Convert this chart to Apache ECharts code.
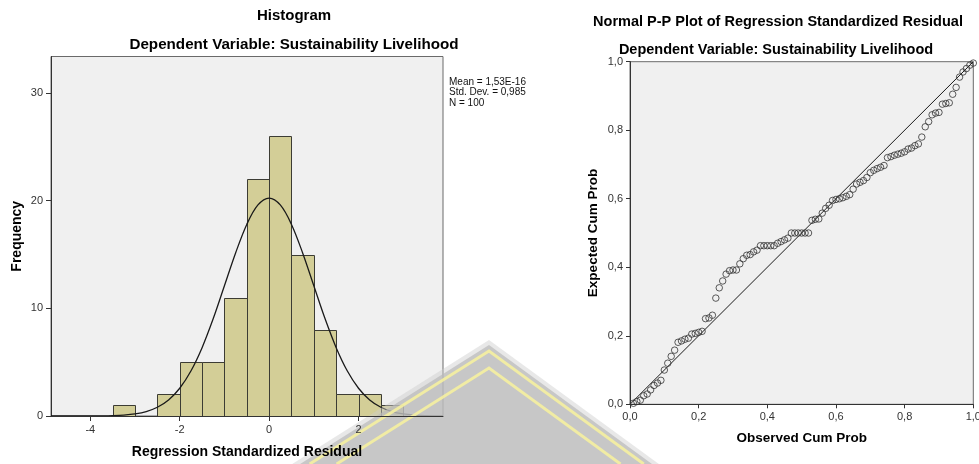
<!DOCTYPE html>
<html>
<head>
<meta charset="utf-8">
<script src="https://cdn.jsdelivr.net/npm/echarts@6/dist/echarts.min.js"></script>
<style>
html,body{margin:0;padding:0;background:#ffffff;}
#chart{width:979px;height:464px;}
</style>
</head>
<body>
<div id="chart"></div>
<script>
// ---------- Histogram data ----------
const binStarts = [-3.5, -2.5, -2.0, -1.5, -1.0, -0.5, 0.0, 0.5, 1.0, 1.5, 2.0, 2.5];
const binEnds   = [-3.0, -2.0, -1.5, -1.0, -0.5, 0.0, 0.5, 1.0, 1.5, 2.0, 2.5, 3.0];
const binCounts = [1, 2, 5, 5, 11, 22, 26, 15, 8, 2, 2, 1];
const histXTicks = [-4, -2, 0, 2];
const histYTicks = [0, 10, 20, 30];
// normal curve (peak ~20.25 at 0)
const curveX = [-4.88, -4.75, -4.5, -4.25, -4.0, -3.75, -3.5, -3.25, -3.0, -2.75, -2.5, -2.25, -2.0, -1.75, -1.5, -1.25, -1.0, -0.75, -0.5, -0.25, 0.0,
                0.25, 0.5, 0.75, 1.0, 1.25, 1.5, 1.75, 2.0, 2.25, 2.5, 2.75, 3.0, 3.25, 3.5, 3.75, 3.89];
const curveY = [0.0001, 0.0002, 0.0006, 0.002, 0.005, 0.014, 0.037, 0.088, 0.196, 0.41, 0.81, 1.49, 2.58, 4.18, 6.35, 9.05, 12.10, 15.15, 17.80, 19.61, 20.25,
                19.61, 17.80, 15.15, 12.10, 9.05, 6.35, 4.18, 2.58, 1.49, 0.81, 0.41, 0.196, 0.088, 0.037, 0.014, 0.008];
const statsLines = ['Mean = 1,53E-16', 'Std. Dev. = 0,985', 'N = 100'];

// ---------- P-P plot data ----------
const ppObserved = [0.01,0.02,0.03,0.04,0.05,0.06,0.07,0.08,0.09,0.10,
                    0.11,0.12,0.13,0.14,0.15,0.16,0.17,0.18,0.19,0.20,
                    0.21,0.22,0.23,0.24,0.25,0.26,0.27,0.28,0.29,0.30,
                    0.31,0.32,0.33,0.34,0.35,0.36,0.37,0.38,0.39,0.40,
                    0.41,0.42,0.43,0.44,0.45,0.46,0.47,0.48,0.49,0.50,
                    0.51,0.52,0.53,0.54,0.55,0.56,0.57,0.58,0.59,0.60,
                    0.61,0.62,0.63,0.64,0.65,0.66,0.67,0.68,0.69,0.70,
                    0.71,0.72,0.73,0.74,0.75,0.76,0.77,0.78,0.79,0.80,
                    0.81,0.82,0.83,0.84,0.85,0.86,0.87,0.88,0.89,0.90,
                    0.91,0.92,0.93,0.94,0.95,0.96,0.97,0.98,0.99,1.00];
const ppExpected = [0.003,0.008,0.012,0.025,0.030,0.042,0.055,0.062,0.070,0.100,
                    0.120,0.140,0.158,0.181,0.185,0.190,0.193,0.205,0.207,0.210,
                    0.213,0.250,0.252,0.260,0.310,0.340,0.360,0.380,0.390,0.392,
                    0.392,0.410,0.425,0.435,0.437,0.445,0.450,0.463,0.463,0.463,
                    0.463,0.463,0.470,0.475,0.480,0.485,0.500,0.500,0.500,0.500,
                    0.500,0.500,0.537,0.540,0.541,0.558,0.572,0.581,0.595,0.598,
                    0.600,0.603,0.607,0.612,0.628,0.643,0.648,0.653,0.662,0.676,
                    0.683,0.688,0.692,0.697,0.720,0.723,0.727,0.730,0.733,0.737,
                    0.745,0.748,0.755,0.760,0.780,0.810,0.825,0.845,0.850,0.852,
                    0.876,0.878,0.880,0.905,0.925,0.955,0.970,0.980,0.990,0.996];
const ppTicks = [0, 0.2, 0.4, 0.6, 0.8, 1.0];
const refLine = [0, 1];

// ---------- build ----------
const FONT = '"Liberation Sans", Arial, sans-serif';
const histData = binCounts.map((c, i) => [binStarts[i], binEnds[i], c]);
const curveData = curveX.map((x, i) => [x, curveY[i]]);
const ppData = ppObserved.map((x, i) => [x, ppExpected[i]]);
const refData = refLine.map(v => [v, v]);
const commaFmt = v => v.toFixed(1).replace('.', ',');

function axisBase(extra) {
  return Object.assign({
    type: 'value',
    axisLine: { show: true, onZero: false, lineStyle: { color: '#333', width: 1 } },
    splitLine: { show: false },
    nameLocation: 'middle',
    nameTextStyle: { fontFamily: FONT, fontWeight: 'bold', fontSize: 14, color: '#000' }
  }, extra);
}

const chart = echarts.init(document.getElementById('chart'), null, { renderer: 'canvas' });

// watermark geometry (decoration)
const apexX = 489, apexY = 343, baseY = 464, sL = 0.63, sR = 0.73;
function chevron(d) {
  const h = baseY - (apexY + d);
  return [[apexX - h / sL, baseY], [apexX, apexY + d], [apexX + h / sR, baseY]];
}

const option = {
  animation: false,
  backgroundColor: '#ffffff',
  title: [
    { text: 'Histogram', left: 294, top: 16, textAlign: 'center', textVerticalAlign: 'middle', padding: 0,
      textStyle: { fontFamily: FONT, fontWeight: 'bold', fontSize: 15, color: '#000' } },
    { text: 'Dependent Variable: Sustainability Livelihood', left: 294, top: 45, textAlign: 'center', textVerticalAlign: 'middle', padding: 0,
      textStyle: { fontFamily: FONT, fontWeight: 'bold', fontSize: 15.2, color: '#000' } },
    { text: 'Normal P-P Plot of Regression Standardized Residual', left: 778, top: 21.5, textAlign: 'center', textVerticalAlign: 'middle', padding: 0,
      textStyle: { fontFamily: FONT, fontWeight: 'bold', fontSize: 14.5, color: '#000' } },
    { text: 'Dependent Variable: Sustainability Livelihood', left: 776, top: 50, textAlign: 'center', textVerticalAlign: 'middle', padding: 0,
      textStyle: { fontFamily: FONT, fontWeight: 'bold', fontSize: 14.5, color: '#000' } }
  ],
  grid: [
    { left: 51, top: 56.5, width: 392, height: 359.5, show: true, backgroundColor: '#f0f0f0',
      borderColor: '#6a6a6a', borderWidth: 1, containLabel: false, outerBoundsMode: 'none' },
    { left: 630, top: 61.7, width: 343.3, height: 342.6, show: true, backgroundColor: '#f0f0f0',
      borderColor: '#6a6a6a', borderWidth: 1, containLabel: false, outerBoundsMode: 'none' }
  ],
  xAxis: [
    axisBase({
      gridIndex: 0, min: -4.88, max: 3.89, z: 60,
      name: 'Regression Standardized Residual', nameGap: 29,
      axisTick: { show: true, length: 5, customValues: histXTicks, lineStyle: { color: '#333' } },
      axisLabel: { customValues: histXTicks, color: '#333', fontSize: 11, fontFamily: FONT, margin: 8 }
    }),
    axisBase({
      gridIndex: 1, min: 0, max: 1, z: 60,
      name: 'Observed Cum Prob', nameGap: 27,
      nameTextStyle: { fontFamily: FONT, fontWeight: 'bold', fontSize: 13.5, color: '#000' },
      axisTick: { show: true, length: 4, customValues: ppTicks, lineStyle: { color: '#333' } },
      axisLabel: { customValues: ppTicks, formatter: commaFmt, color: '#333', fontSize: 11, fontFamily: FONT, margin: 7 }
    })
  ],
  yAxis: [
    axisBase({
      gridIndex: 0, min: 0, max: 33.4,
      name: 'Frequency', nameGap: 27,
      axisTick: { show: true, length: 5, customValues: histYTicks, lineStyle: { color: '#333' } },
      axisLabel: { customValues: histYTicks, color: '#333', fontSize: 11, fontFamily: FONT, margin: 8 }
    }),
    axisBase({
      gridIndex: 1, min: 0, max: 1, z: 60,
      name: 'Expected Cum Prob', nameGap: 30,
      nameTextStyle: { fontFamily: FONT, fontWeight: 'bold', fontSize: 13.5, color: '#000' },
      axisTick: { show: true, length: 4, customValues: ppTicks, lineStyle: { color: '#333' } },
      axisLabel: { customValues: ppTicks, formatter: commaFmt, color: '#333', fontSize: 11, fontFamily: FONT, margin: 7 }
    })
  ],
  series: [
    {
      type: 'custom', name: 'Histogram', xAxisIndex: 0, yAxisIndex: 0,
      data: histData, encode: { x: [0, 1], y: 2 }, clip: true,
      renderItem: function (params, api) {
        const p0 = api.coord([api.value(0), api.value(2)]);
        const p1 = api.coord([api.value(1), 0]);
        return {
          type: 'rect',
          shape: { x: Math.round(p0[0]) + 0.5, y: Math.round(p0[1]) + 0.5,
                   width: Math.round(p1[0]) - Math.round(p0[0]), height: Math.round(p1[1]) - Math.round(p0[1]) },
          style: { fill: '#d3ce97', stroke: '#3c3c34', lineWidth: 1 }
        };
      }
    },
    {
      type: 'line', name: 'Normal', xAxisIndex: 0, yAxisIndex: 0,
      data: curveData, smooth: 0.35, showSymbol: false, symbol: 'none', clip: true,
      lineStyle: { color: '#1a1a1a', width: 1.3 }, z: 5
    },
    {
      type: 'line', name: 'Reference', xAxisIndex: 1, yAxisIndex: 1,
      data: refData, showSymbol: false, symbol: 'none',
      lineStyle: { color: '#1a1a1a', width: 1 }, z: 3
    },
    {
      type: 'scatter', name: 'P-P', xAxisIndex: 1, yAxisIndex: 1,
      data: ppData, symbol: 'circle', symbolSize: 6.5, clip: false,
      itemStyle: { color: 'rgba(0,0,0,0)', borderColor: '#333', borderWidth: 1 }, z: 4
    }
  ],
  graphic: [
    { type: 'text', x: 449, y: 76.5, z: 10,
      style: { text: statsLines.join('\n'), font: '10px ' + FONT, lineHeight: 10.5, fill: '#111' } },
    // watermark (background decoration in the picture)
    { type: 'polygon', z: 50, silent: true, shape: { points: chevron(-3) }, style: { fill: 'rgba(205,205,205,0.45)' } },
    { type: 'polygon', z: 51, silent: true, shape: { points: chevron(2) }, style: { fill: 'rgba(185,185,185,0.7)' } },
    { type: 'polyline', z: 52, silent: true, shape: { points: chevron(8) }, style: { stroke: 'rgba(245,240,160,0.9)', lineWidth: 3, fill: null } },
    { type: 'polyline', z: 52, silent: true, shape: { points: chevron(25) }, style: { stroke: 'rgba(245,240,160,0.9)', lineWidth: 3, fill: null } }
  ]
};
chart.setOption(option);
</script>
</body>
</html>
